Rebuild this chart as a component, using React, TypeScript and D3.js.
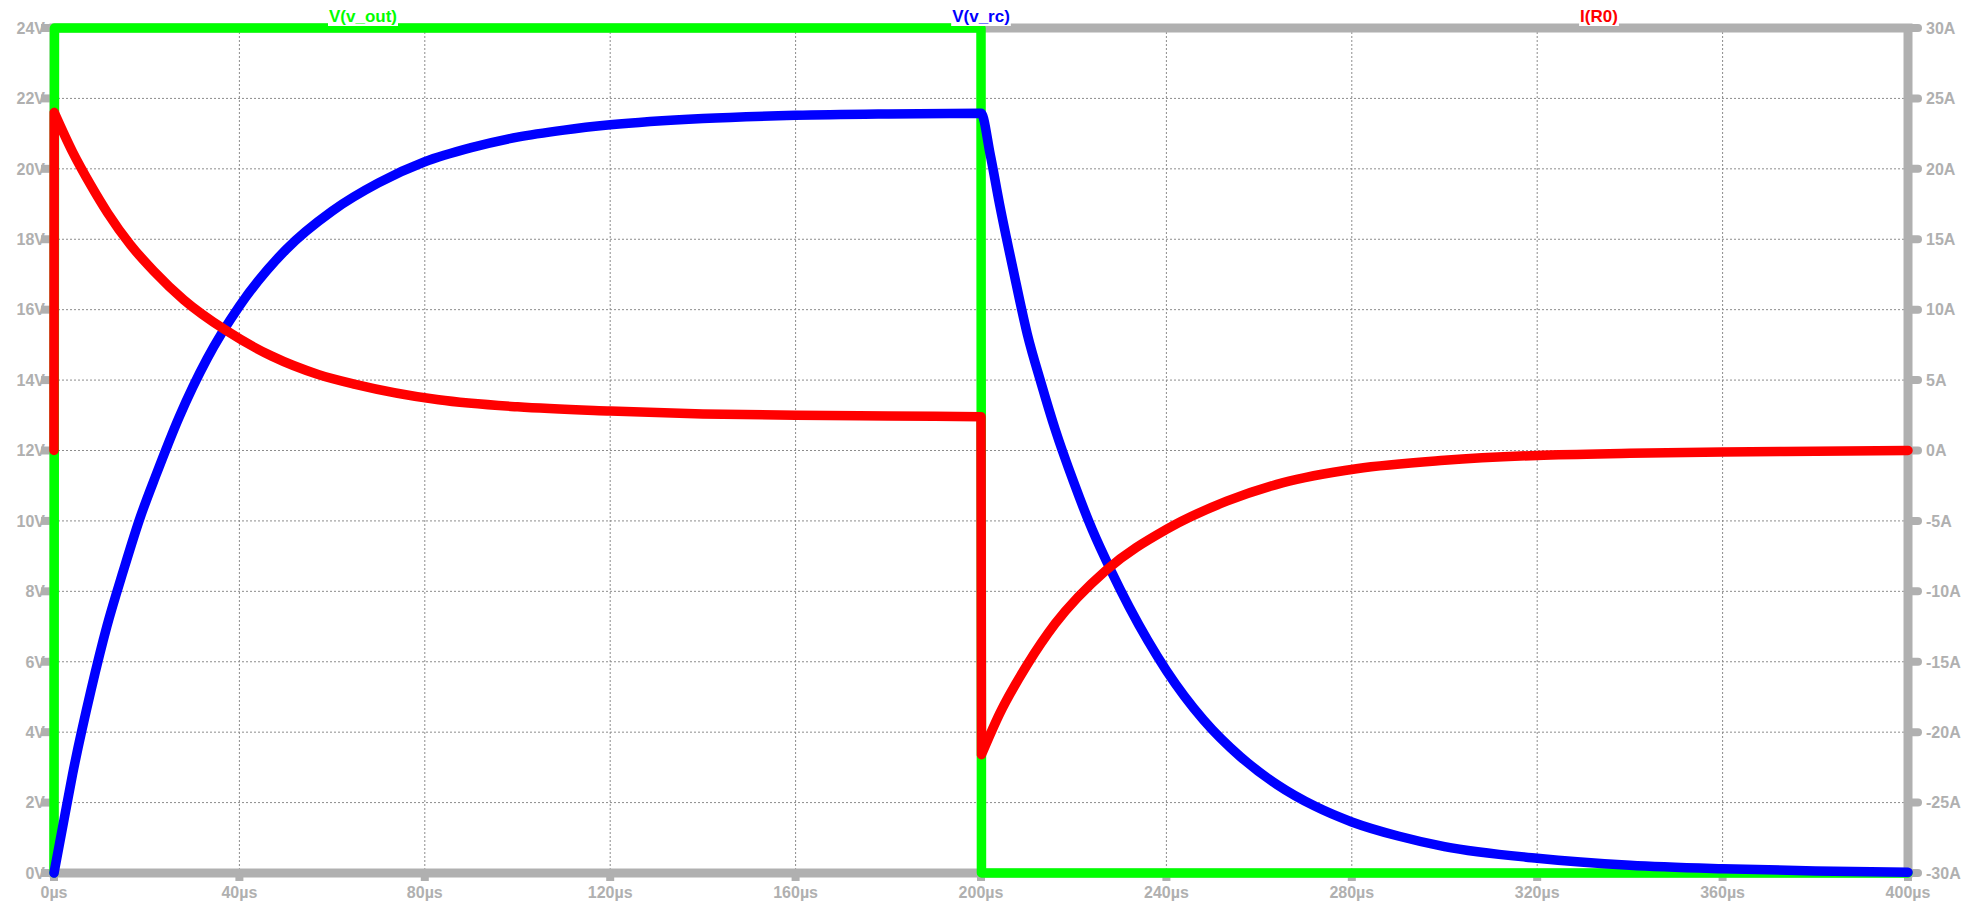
import React, { useRef, useEffect } from 'react';
import * as d3 from 'd3';

// time in µs, volts on left axis, amps on right axis
const vOutT = [0, 0.1, 200, 200.1, 400];
const vOutV = [0, 24, 24, 0, 0];

const vRcT = [0, 2, 4, 8, 11.4, 15, 18.6, 22, 27, 33, 40, 50, 60, 70, 80, 90, 100, 110, 120, 140, 160, 180, 200,
  202, 204, 207, 210, 213, 216, 220, 224, 228, 232, 236, 240, 248, 256, 264, 272, 280, 290, 300, 320, 340, 360, 380, 400];
const vRcV = [0, 1.4, 2.8, 5.2, 7.0, 8.6, 10.1, 11.3, 12.95, 14.6, 16.1, 17.7, 18.8, 19.6, 20.2, 20.6, 20.9, 21.1, 21.25, 21.43, 21.52, 21.56, 21.58,
  20.4, 19.0, 17.1, 15.3, 13.9, 12.6, 11.1, 9.75, 8.6, 7.55, 6.6, 5.75, 4.35, 3.3, 2.5, 1.9, 1.45, 1.05, 0.75, 0.42, 0.22, 0.12, 0.06, 0.02];

const iR0T = [0, 0.05, 4, 8, 11.5, 16.5, 21.5, 28, 37, 47, 57, 65, 83, 100, 120, 140, 160, 180, 200,
  200.1, 204, 210, 216, 227, 240, 253, 265, 281, 300, 320, 340, 360, 380, 400];
const iR0A = [0, 24.0, 21.2, 18.8, 16.9, 14.6, 12.75, 10.7, 8.55, 6.7, 5.4, 4.7, 3.6, 3.1, 2.8, 2.6, 2.5, 2.45, 2.4,
  -21.6, -18.7, -15.2, -12.3, -8.5, -5.6, -3.6, -2.3, -1.3, -0.7, -0.35, -0.2, -0.1, -0.05, 0];

const timeTicks = [0, 40, 80, 120, 160, 200, 240, 280, 320, 360, 400];
const voltTicks = [0, 2, 4, 6, 8, 10, 12, 14, 16, 18, 20, 22, 24];
const ampTicks = [-30, -25, -20, -15, -10, -5, 0, 5, 10, 15, 20, 25, 30];

const traceNames = ['V(v_out)', 'V(v_rc)', 'I(R0)'];
const traceColors = ['#00ff00', '#0000ff', '#ff0000'];

// split index range into smooth runs, breaking at instantaneous jumps
const splitRuns = (t: number[]) => {
  const runs: { idx: number[]; jump: boolean }[] = [];
  let cur = [0];
  for (let i = 1; i < t.length; i++) {
    if (t[i] - t[i - 1] < 0.5) {
      if (cur.length > 1) runs.push({ idx: cur, jump: false });
      runs.push({ idx: [i - 1, i], jump: true });
      cur = [i];
    } else {
      cur.push(i);
    }
  }
  if (cur.length > 1) runs.push({ idx: cur, jump: false });
  return runs;
};

const App = () => {
  const ref = useRef<SVGSVGElement>(null);

  useEffect(() => {
    const width = 1982, height = 904;
    const margin = { top: 28, right: 74, bottom: 31, left: 54 };
    const gray = '#b0b0b0';
    const font = '"Liberation Sans", Arial, sans-serif';

    const svg = d3.select(ref.current);
    svg.selectAll('*').remove();
    svg.attr('width', width).attr('height', height);

    const x = d3.scaleLinear().domain([0, 400]).range([margin.left, width - margin.right]);
    const yV = d3.scaleLinear().domain([0, 24]).range([height - margin.bottom, margin.top]);
    const yA = d3.scaleLinear().domain([-30, 30]).range([height - margin.bottom, margin.top]);

    const x0 = x(0), x1 = x(400), y0 = yV(0), y1 = yV(24);

    // grid
    const grid = svg.append('g')
      .attr('stroke', '#8c8c8c')
      .attr('stroke-width', 1)
      .attr('stroke-dasharray', '2,2');
    grid.selectAll('line.v')
      .data(timeTicks.slice(1, -1))
      .join('line')
      .attr('x1', d => x(d)).attr('x2', d => x(d))
      .attr('y1', y1).attr('y2', y0);
    grid.selectAll('line.h')
      .data(voltTicks.slice(1, -1))
      .join('line')
      .attr('x1', x0).attr('x2', x1)
      .attr('y1', d => yV(d)).attr('y2', d => yV(d));

    // tick stubs
    svg.append('g').selectAll('line')
      .data(voltTicks)
      .join('line')
      .attr('x1', x0 - 13).attr('x2', x0)
      .attr('y1', d => yV(d)).attr('y2', d => yV(d))
      .attr('stroke', gray).attr('stroke-width', 8);
    svg.append('g').selectAll('line')
      .data(timeTicks)
      .join('line')
      .attr('x1', d => x(d)).attr('x2', d => x(d))
      .attr('y1', y0).attr('y2', y0 + 8)
      .attr('stroke', gray).attr('stroke-width', 8);
    svg.append('g').selectAll('line')
      .data(ampTicks)
      .join('line')
      .attr('x1', x1).attr('x2', x1 + 10)
      .attr('y1', d => yA(d)).attr('y2', d => yA(d))
      .attr('stroke', gray).attr('stroke-width', 8)
      .attr('stroke-linecap', 'round');

    // frame
    svg.append('rect')
      .attr('x', x0).attr('y', y1)
      .attr('width', x1 - x0).attr('height', y0 - y1)
      .attr('fill', 'none')
      .attr('stroke', gray)
      .attr('stroke-width', 9);

    // tick labels
    const lbl = svg.append('g')
      .attr('fill', gray)
      .attr('font-family', font)
      .attr('font-weight', 'bold')
      .attr('font-size', 16);
    lbl.selectAll('text.l')
      .data(voltTicks)
      .join('text')
      .attr('x', x0 - 9).attr('y', d => yV(d))
      .attr('dy', '0.36em')
      .attr('text-anchor', 'end')
      .text(d => `${d}V`);
    lbl.selectAll('text.r')
      .data(ampTicks.slice().reverse())
      .join('text')
      .attr('x', x1 + 18).attr('y', d => yA(d))
      .attr('dy', '0.36em')
      .attr('text-anchor', 'start')
      .text(d => `${d}A`);
    lbl.selectAll('text.b')
      .data(timeTicks)
      .join('text')
      .attr('x', d => x(d)).attr('y', y0 + 25)
      .attr('text-anchor', 'middle')
      .text(d => `${d}µs`);

    // traces
    const traces = [
      { t: vOutT, v: vOutV, y: yV },
      { t: vRcT, v: vRcV, y: yV },
      { t: iR0T, v: iR0A, y: yA },
    ];
    traces.forEach((tr, i) => {
      const smooth = d3.line<number>()
        .x(d => x(tr.t[d]))
        .y(d => tr.y(tr.v[d]))
        .curve(i === 0 ? d3.curveLinear : d3.curveMonotoneX);
      const straight = d3.line<number>()
        .x(d => x(tr.t[d]))
        .y(d => tr.y(tr.v[d]));
      const dStr = splitRuns(tr.t)
        .map(r => (r.jump ? straight(r.idx) : smooth(r.idx)))
        .join('');
      svg.append('path')
        .attr('fill', 'none')
        .attr('stroke', traceColors[i])
        .attr('stroke-width', 9.5)
        .attr('stroke-linejoin', 'round')
        .attr('stroke-linecap', 'round')
        .attr('d', dStr);
    });

    // trace names
    const names = svg.append('g')
      .attr('font-family', font)
      .attr('font-weight', 'bold')
      .attr('font-size', 17);
    traceNames.forEach((n, i) => {
      const cx = x(400 * (2 * i + 1) / 6);
      const g = names.append('g');
      const txt = g.append('text')
        .attr('x', cx).attr('y', 22)
        .attr('text-anchor', 'middle')
        .attr('fill', traceColors[i])
        .text(n);
      const bb = (txt.node() as SVGTextElement).getBBox();
      g.insert('rect', 'text')
        .attr('x', bb.x - 1).attr('y', bb.y)
        .attr('width', bb.width + 2).attr('height', bb.height)
        .attr('fill', '#fff');
    });
  }, []);

  return <svg ref={ref} style={{ position: 'absolute', left: 0, top: 0, background: '#fff' }}></svg>;
};

export default App;
